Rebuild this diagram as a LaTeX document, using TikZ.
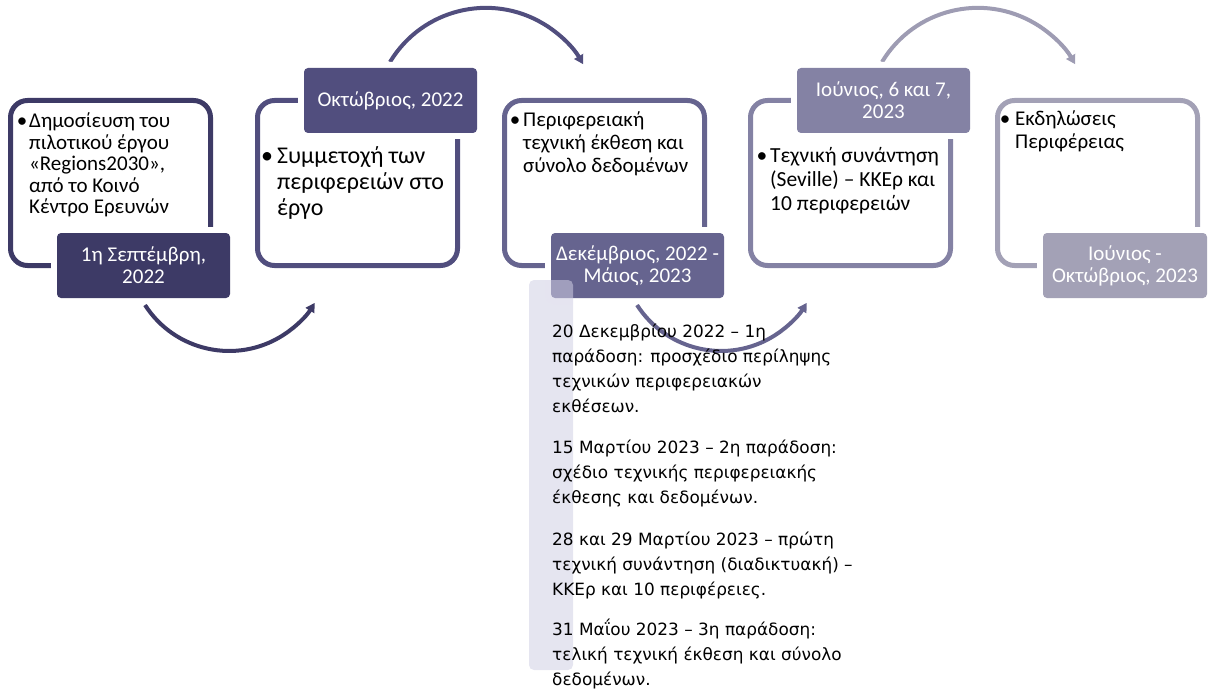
\documentclass[tikz,border=0pt]{standalone}
\usepackage{fontspec}
\setmainfont{Carlito}
\newfontfamily\listfont{DejaVu Sans}
\usetikzlibrary{arrows.meta}
\definecolor{cA}{HTML}{3D3A66}
\definecolor{cB}{HTML}{514E7E}
\definecolor{cC}{HTML}{66648F}
\definecolor{cD}{HTML}{8482A4}
\definecolor{cE}{HTML}{A3A1B6}
\definecolor{barc}{HTML}{D0CFE4}
\newcommand{\mlines}[1]{\begin{tabular}[t]{@{}l@{}}#1\end{tabular}}
\begin{document}
\begin{tikzpicture}[x=1pt,y=-1pt,
  frame/.style={draw=#1, line width=5pt, rounded corners=17pt, minimum width=200pt, minimum height=165pt, inner sep=0pt},
  lab/.style={fill=#1, preaction={draw=white, line width=12pt}, rounded corners=4pt, minimum width=173pt, minimum height=65pt, inner sep=0pt, text=white, align=center, font=\fontsize{21}{22}\selectfont},
  arr/.style={draw=#1, line width=4pt, -{Triangle[length=9pt,width=10pt]}},
  bul/.style={anchor=base, inner sep=0pt},
  body/.style={anchor=base west, inner sep=0pt},
  item/.style={anchor=base west, inner sep=0pt, font=\listfont\fontsize{16.9}{25}\selectfont}
]
\useasboundingbox (0,0) rectangle (1215,695);
% arrows
\coordinate (a1s) at (145,305);
\coordinate (a2s) at (390,62);
\coordinate (a3s) at (637,305);
\coordinate (a4s) at (882,62);
\draw[arr=cA] (a1s) arc[start angle=147.3, end angle=31.3, radius=100];
\draw[arr=cB] (a2s) arc[start angle=-148.9, end angle=-29.8, radius=112];
\draw[arr=cC] (a3s) arc[start angle=147.3, end angle=31.3, radius=100];
\draw[arr=cE!85!cD] (a4s) arc[start angle=-148.9, end angle=-29.8, radius=112];
% frames
\node[frame=cA] (f1) at (110.5,183) {};
\node[frame=cB] (f2) at (357.5,183) {};
\node[frame=cC] (f3) at (604.5,183) {};
\node[frame=cD] (f4) at (850.5,183) {};
\node[frame=cE] (f5) at (1097.5,183) {};
% labels
\node[lab=cA] (l1) at (143.5,265.5) {1η Σεπτέμβρη,\\2022};
\node[lab=cB] (l2) at (390.5,100.5) {Οκτώβριος, 2022};
\node[lab=cC] (l3) at (637.5,265.5) {Δεκέμβριος, 2022 -\\Μάιος, 2023};
\node[lab=cD] (l4) at (883.5,100.5) {Ιούνιος, 6 και 7,\\2023};
\node[lab=cE, minimum width=164pt] (l5) at (1125,265.5) {Ιούνιος -\\Οκτώβριος, 2023};
% frame texts
\node[bul, font=\fontsize{21}{21.5}\selectfont] (b1) at (22,128) {•};
\node[body, font=\fontsize{21}{21.5}\selectfont] (t1) at (29,128) {\mlines{Δημοσίευση του\\πιλοτικού έργου\\«Regions2030»,\\από το Κοινό\\Κέντρο Ερευνών}};
\node[bul, font=\fontsize{24}{26}\selectfont] (b2) at (267,164) {•};
\node[body, font=\fontsize{24}{26}\selectfont] (t2) at (277,164) {\mlines{Συμμετοχή των\\περιφερειών στο\\έργο}};
\node[bul, font=\fontsize{21}{23}\selectfont] (b3) at (515,127) {•};
\node[body, font=\fontsize{21}{23}\selectfont] (t3) at (523,127) {\mlines{Περιφερειακή\\τεχνική έκθεση και\\σύνολο δεδομένων}};
\node[bul, font=\fontsize{21.5}{24}\selectfont] (b4) at (762,163) {•};
\node[body, font=\fontsize{21.5}{24}\selectfont] (t4) at (770,163) {\mlines{Τεχνική συνάντηση\\(Seville) – ΚΚΕρ και\\10 περιφερειών}};
\node[bul, font=\fontsize{21}{23}\selectfont] (b5) at (1005,126) {•};
\node[body, font=\fontsize{21}{23}\selectfont] (t5) at (1015,126) {\mlines{Εκδηλώσεις\\Περιφέρειας}};
% list bar and items
\fill[barc, opacity=0.55, rounded corners=5pt] (529,280) rectangle (573,670);
\node[item] (p1) at (552,337) {\mlines{20 Δεκεμβρίου 2022 – 1η\\παράδοση: προσχέδιο περίληψης\\τεχνικών περιφερειακών\\εκθέσεων.}};
\node[item] (p2) at (552,453) {\mlines{15 Μαρτίου 2023 – 2η παράδοση:\\σχέδιο τεχνικής περιφερειακής\\έκθεσης και δεδομένων.}};
\node[item] (p3) at (552,545) {\mlines{28 και 29 Μαρτίου 2023 – πρώτη\\τεχνική συνάντηση (διαδικτυακή) –\\ΚΚΕρ και 10 περιφέρειες.}};
\node[item] (p4) at (552,635) {\mlines{31 Μαΐου 2023 – 3η παράδοση:\\τελική τεχνική έκθεση και σύνολο\\δεδομένων.}};
\end{tikzpicture}
\end{document}
